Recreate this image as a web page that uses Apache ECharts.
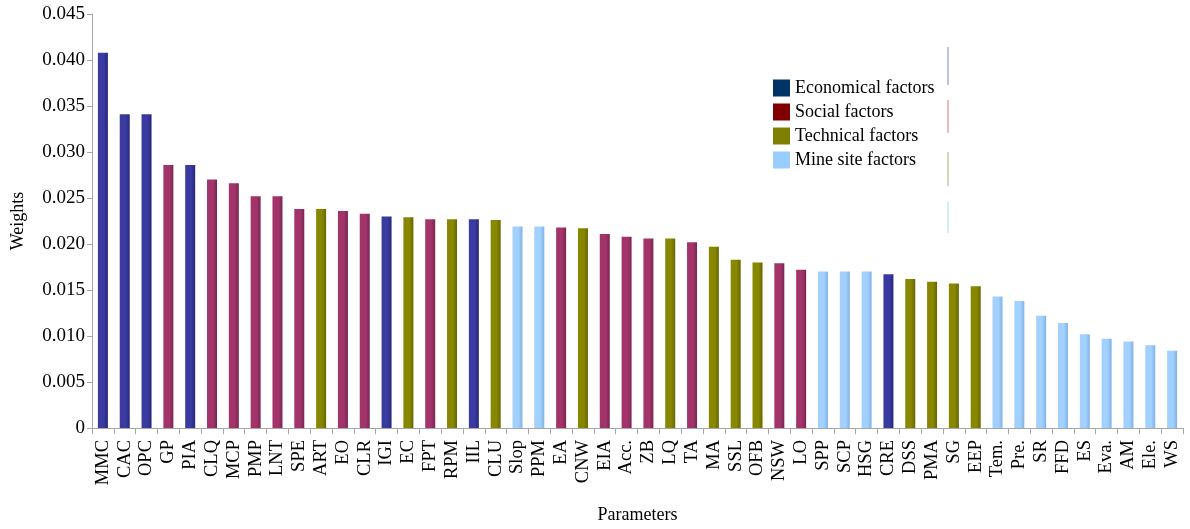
<!DOCTYPE html>
<html>
<head>
<meta charset="utf-8">
<script src="https://cdn.jsdelivr.net/npm/echarts@6/dist/echarts.min.js"></script>
<style>html,body{margin:0;padding:0;background:#fff}#c{width:1190px;height:529px}</style>
</head>
<body>
<div id="c"></div>
<script>
const categories = ["MMC","CAC","OPC","GP","PIA","CLQ","MCP","PMP","LNT","SPE","ART","EO","CLR","IGI","EC","FPT","RPM","IIL","CLU","Slop","PPM","EA","CNW","EIA","Acc.","ZB","LQ","TA","MA","SSL","OFB","NSW","LO","SPP","SCP","HSG","CRE","DSS","PMA","SG","EEP","Tem.","Pre.","SR","FFD","ES","Eva.","AM","Ele.","WS"];
const weights = [0.0408,0.0341,0.0341,0.0286,0.0286,0.0270,0.0266,0.0252,0.0252,0.0238,0.0238,0.0236,0.0233,0.0230,0.0229,0.0227,0.0227,0.0227,0.0226,0.0219,0.0219,0.0218,0.0217,0.0211,0.0208,0.0206,0.0206,0.0202,0.0197,0.0183,0.0180,0.0179,0.0172,0.0170,0.0170,0.0170,0.0167,0.0162,0.0159,0.0157,0.0154,0.0143,0.0138,0.0122,0.0114,0.0102,0.0097,0.0094,0.0090,0.0084];
// 0 Economical, 1 Social, 2 Technical, 3 Mine site
const groups = [0,0,0,1,0,1,1,1,1,1,2,1,1,0,2,1,2,0,2,3,3,1,2,1,1,1,2,1,2,2,2,1,1,3,3,3,0,2,2,2,2,3,3,3,3,3,3,3,3,3];
const groupNames = ["Economical factors","Social factors","Technical factors","Mine site factors"];
const legendColors = ["#003366","#800000","#808000","#99CCFF"];
const barColors = [["#3a3aa0","#26277a"],["#a2346a","#7a2550"],["#878700","#666600"],["#a2d0ff","#80b2e4"]];
const yTicks = [0,0.005,0.01,0.015,0.02,0.025,0.03,0.035,0.04,0.045];

const font = "'Liberation Serif','Times New Roman',serif";
const series = groupNames.map((name, g) => ({
  name: name,
  type: 'bar',
  stack: 'all',
  barWidth: 10,
  data: weights.map((v, i) => groups[i] === g ? v : null),
  itemStyle: {
    color: new echarts.graphic.LinearGradient(0,0,1,0,[
      {offset:0,color:barColors[g][0]},{offset:0.6,color:barColors[g][0]},{offset:1,color:barColors[g][1]}
    ])
  }
}));

const chart = echarts.init(document.getElementById('c'), null, {renderer:'canvas'});
chart.setOption({
  animation: false,
  backgroundColor: '#fff',
  grid: {left: 92, right: 7, top: 14, bottom: 100},
  legend: {
    orient: 'vertical',
    left: 773, top: 79, padding: 0,
    itemWidth: 17, itemHeight: 17, itemGap: 6,
    icon: 'rect',
    textStyle: {fontFamily: font, fontSize: 18, color: '#000'},
    data: groupNames.map((n, g) => ({name: n, itemStyle: {color: legendColors[g]}}))
  },
  xAxis: {
    type: 'category',
    data: categories,
    name: 'Parameters',
    nameLocation: 'middle',
    nameGap: 78,
    nameTextStyle: {fontFamily: font, fontSize: 18, color: '#000'},
    axisLine: {lineStyle: {color: '#a6a6a6'}},
    axisTick: {show: true, length: 6, lineStyle: {color: '#a6a6a6'}},
    axisLabel: {rotate: 90, interval: 0, fontFamily: font, fontSize: 18.5, color: '#000', margin: 12}
  },
  yAxis: {
    type: 'value',
    min: 0, max: 0.045, interval: 0.005,
    name: 'Weights',
    nameLocation: 'middle',
    nameGap: 65,
    nameTextStyle: {fontFamily: font, fontSize: 18, color: '#000'},
    axisLine: {show: true, lineStyle: {color: '#a6a6a6'}},
    axisTick: {show: true, length: 5, lineStyle: {color: '#a6a6a6'}},
    splitLine: {show: false},
    axisLabel: {fontFamily: font, fontSize: 19, color: '#000', margin: 7,
      formatter: v => v === 0 ? '0' : v.toFixed(3)}
  },
  graphic: [
    {type:'line', shape:{x1:948,y1:47,x2:948,y2:85}, style:{stroke:'#6f8fc0',lineWidth:1}},
    {type:'line', shape:{x1:948,y1:100,x2:948,y2:133}, style:{stroke:'#d07a7a',lineWidth:1}},
    {type:'line', shape:{x1:948,y1:152,x2:948,y2:186}, style:{stroke:'#a0b070',lineWidth:1}},
    {type:'line', shape:{x1:948,y1:202,x2:948,y2:233}, style:{stroke:'#a8dbe8',lineWidth:1}}
  ],
  series: series
});
</script>
</body>
</html>
